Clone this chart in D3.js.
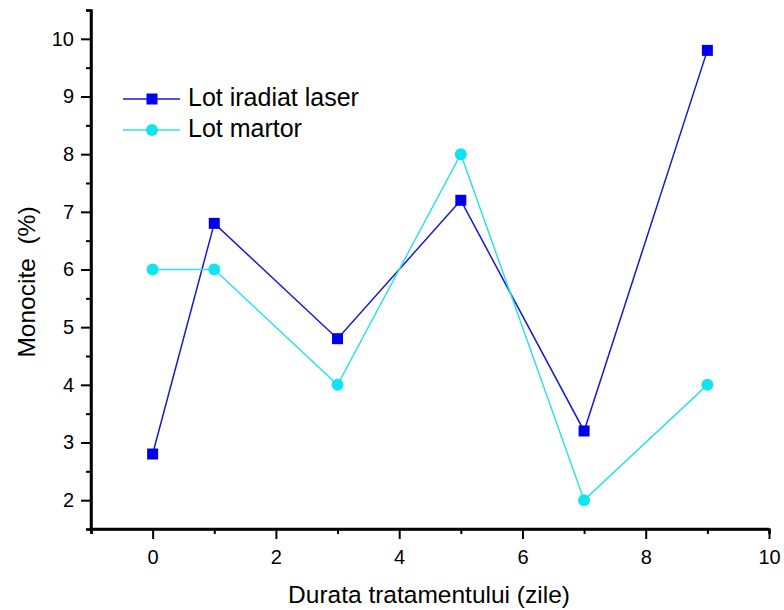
<!DOCTYPE html>
<html>
<head>
<meta charset="utf-8">
<title>Monocite</title>
<style>
  body { margin: 0; background: #fff; }
  svg { font-family: Arial, "Liberation Sans", sans-serif; }
</style>
</head>
<body>
<svg width="784" height="610"></svg>
<script src="https://cdn.jsdelivr.net/npm/d3@7"></script>
<script>
// date
const zile = [0, 1, 3, 5, 7, 9]
const lotLaser = [2.8, 6.8, 4.8, 7.2, 3.2, 9.8]
const lotMartor = [6, 6, 4, 8, 2, 4]
const xTicks = [0, 2, 4, 6, 8, 10]
const yTicks = [2, 3, 4, 5, 6, 7, 8, 9, 10]
const serii = [
  { nume: "Lot iradiat laser", valori: lotLaser, culoare: "#0000ee", linie: "#1a1acc", marker: "square" },
  { nume: "Lot martor", valori: lotMartor, culoare: "#10e4f0", linie: "#30e0ea", marker: "circle" }
]

const svg = d3.select("svg")
const xStart = 91, xEnd = 769, yTop = 10, yBottom = 529

const x = d3.scaleLinear().domain([-1, 10]).range([xStart, xEnd])
const y = d3.scaleLinear().domain([1.5, 10.5]).range([yBottom, yTop])

// axa X
const gx = svg.append("g").attr("transform", `translate(0,${yBottom})`)
gx.call(d3.axisBottom(x).tickValues(d3.range(-1, 10.01, 1)).tickSize(5).tickFormat(""))
gx.call(g => g.selectAll(".tick").filter(d => d % 2 === 0).remove())
const gx2 = svg.append("g").attr("transform", `translate(0,${yBottom})`)
  .call(d3.axisBottom(x).tickValues(xTicks).tickSize(10).tickPadding(11).tickSizeOuter(0))
gx2.select(".domain").attr("d", `M${xStart},0H${xEnd}`)

// axa Y
const gy = svg.append("g").attr("transform", `translate(${xStart},0)`)
gy.call(d3.axisLeft(y).tickValues(d3.range(1.5, 10.51, 0.5)).tickSize(5).tickFormat(""))
gy.call(g => g.selectAll(".tick").filter(d => Number.isInteger(d)).remove())
const gy2 = svg.append("g").attr("transform", `translate(${xStart},0)`)
  .call(d3.axisLeft(y).tickValues(yTicks).tickSize(10).tickPadding(7).tickSizeOuter(0))
gy2.select(".domain").attr("d", `M0,${yTop}V${yBottom}`)

svg.selectAll(".domain").attr("stroke", "#000").attr("stroke-width", 2.5)
svg.selectAll(".tick line").attr("stroke", "#000").attr("stroke-width", 2)
svg.selectAll(".tick text").attr("font-size", 20).attr("fill", "#000")
  .attr("font-family", "Arial, 'Liberation Sans', sans-serif")

// titluri axe
svg.append("text").attr("x", 429).attr("y", 603)
  .attr("text-anchor", "middle").attr("font-size", 24.5).text("Durata tratamentului (zile)")
svg.append("text").attr("transform", `translate(35,282) rotate(-90)`)
  .attr("text-anchor", "middle").attr("font-size", 24.5).style("white-space", "pre")
  .text("Monocite  (%)")

// serii
const line = d3.line().x(d => x(d[0])).y(d => y(d[1]))
function deseneazaMarker(g, tip, cx, cy, culoare) {
  if (tip === "square") {
    g.append("rect").attr("x", cx - 5.5).attr("y", cy - 5.5).attr("width", 11).attr("height", 11)
      .attr("fill", culoare)
  } else {
    g.append("circle").attr("cx", cx).attr("cy", cy).attr("r", 6).attr("fill", culoare)
  }
}

serii.forEach(s => {
  const pts = zile.map((z, i) => [z, s.valori[i]])
  svg.append("path").datum(pts).attr("d", line)
    .attr("fill", "none").attr("stroke", s.linie).attr("stroke-width", 1.5)
  const g = svg.append("g")
  pts.forEach(p => deseneazaMarker(g, s.marker, x(p[0]), y(p[1]), s.culoare))
})

// legenda
serii.forEach((s, i) => {
  const ly = 99 + i * 31
  const g = svg.append("g")
  g.append("line").attr("x1", 123).attr("x2", 180).attr("y1", ly).attr("y2", ly)
    .attr("stroke", s.linie).attr("stroke-width", 1.5)
  deseneazaMarker(g, s.marker, 152, ly, s.culoare)
  g.append("text").attr("x", 188).attr("y", ly + 7).attr("font-size", 25).text(s.nume)
})
</script>
</body>
</html>
